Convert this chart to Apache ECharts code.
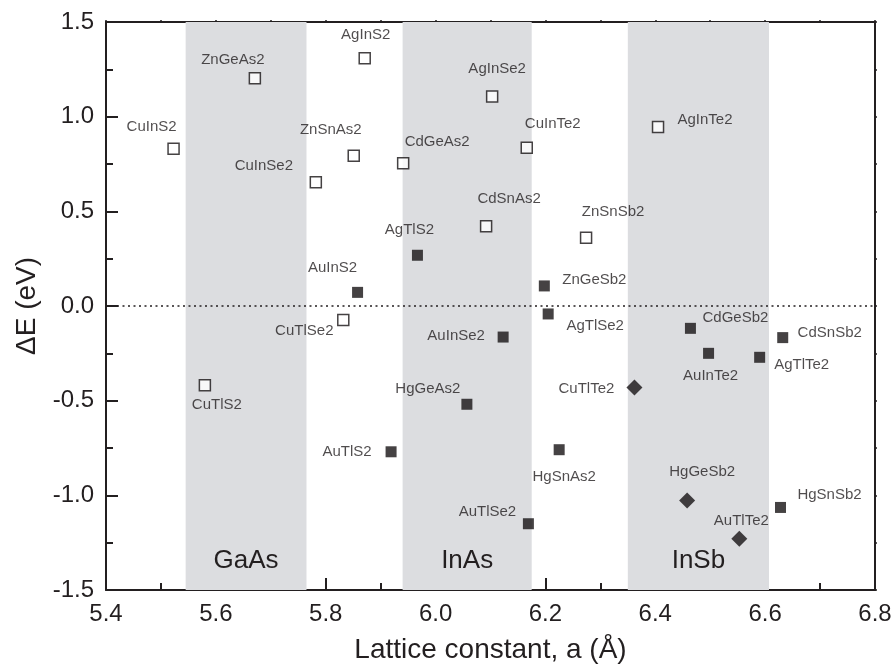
<!DOCTYPE html>
<html>
<head>
<meta charset="utf-8">
<script src="https://cdn.jsdelivr.net/npm/echarts@6/dist/echarts.min.js"></script>
<style>
  html, body { margin: 0; padding: 0; background: #fff; }
  #main { width: 893px; height: 672px; }
</style>
</head>
<body>
<div id="main"></div>
<script>
// open squares (dE > 0 mostly)
var openNames = ['CuInS2', 'ZnGeAs2', 'AgInS2', 'ZnSnAs2', 'CuInSe2', 'CdGeAs2', 'AgInSe2', 'CuInTe2', 'AgInTe2', 'CdSnAs2', 'ZnSnSb2', 'CuTlSe2', 'CuTlS2'];
var openX = [5.523, 5.671, 5.871, 5.851, 5.782, 5.941, 6.103, 6.166, 6.405, 6.092, 6.274, 5.832, 5.580];
var openY = [0.831, 1.203, 1.308, 0.794, 0.653, 0.754, 1.106, 0.836, 0.946, 0.421, 0.361, -0.074, -0.419];

// filled squares
var filledNames = ['AgTlS2', 'AuInS2', 'ZnGeSb2', 'AgTlSe2', 'AuInSe2', 'CdGeSb2', 'CdSnSb2', 'AuInTe2', 'AgTlTe2', 'HgGeAs2', 'AuTlS2', 'HgSnAs2', 'AuTlSe2', 'HgSnSb2'];
var filledX = [5.967, 5.858, 6.198, 6.205, 6.123, 6.464, 6.632, 6.497, 6.590, 6.057, 5.919, 6.225, 6.169, 6.628];
var filledY = [0.268, 0.072, 0.106, -0.042, -0.164, -0.118, -0.167, -0.250, -0.271, -0.519, -0.770, -0.759, -1.150, -1.064];

// diamonds
var diamondNames = ['CuTlTe2', 'HgGeSb2', 'AuTlTe2'];
var diamondX = [6.362, 6.458, 6.553];
var diamondY = [-0.430, -1.027, -1.229];

// substrate bands
var bandNames = ['GaAs', 'InAs', 'InSb'];
var bandFrom = [5.545, 5.94, 6.35];
var bandTo = [5.765, 6.175, 6.607];

// label placement (px from marker centre)
var labelOffset = {
  CuInS2: [-22, -22], ZnGeAs2: [-22, -18], AgInS2: [1, -23], ZnSnAs2: [-23, -26],
  CuInSe2: [-52, -17], CdGeAs2: [34, -21], AgTlS2: [-8, -25], AuInS2: [-25, -25],
  CuTlSe2: [-39, 11], CuTlS2: [12, 20], HgGeAs2: [-39, -15], AuTlS2: [-44, 0],
  AuInSe2: [-47, -1], AgInSe2: [5, -28], CuInTe2: [26, -24], AgInTe2: [47, -7],
  CdSnAs2: [23, -27], ZnSnSb2: [27, -26], ZnGeSb2: [50, -6], AgTlSe2: [47, 12],
  CdGeSb2: [45, -10], CdSnSb2: [47, -5], AuInTe2: [2, 23], AgTlTe2: [42, 8],
  CuTlTe2: [-48, 1], HgSnAs2: [5, 27], HgGeSb2: [15, -29], HgSnSb2: [49, -13],
  AuTlTe2: [2, -18], AuTlSe2: [-41, -12]
};

var ink = '#231f20';
var mark = '#161314';
var font = 'Liberation Sans, Arial, Helvetica, sans-serif';

function buildData(names, xs, ys) {
  return names.map(function (n, i) {
    return {
      name: n,
      value: [xs[i], ys[i]],
      label: { offset: labelOffset[n] || [0, 0] }
    };
  });
}

var pointLabel = {
  show: true,
  position: 'inside',
  formatter: '{b}',
  fontSize: 15,
  fontFamily: font,
  color: ink
};

var bandAreas = bandNames.map(function (n, i) {
  return [
    { xAxis: bandFrom[i], name: n },
    { xAxis: bandTo[i] }
  ];
});

var option = {
  animation: false,
  backgroundColor: '#fff',
  grid: { left: 106, right: 18, top: 22, bottom: 82, containLabel: false, outerBoundsMode: 'none' },
  xAxis: [
    {
      type: 'value',
      min: 5.4,
      max: 6.8,
      interval: 0.2,
      name: 'Lattice constant, a (Å)',
      nameLocation: 'middle',
      nameGap: 46,
      nameTextStyle: { fontSize: 28, fontFamily: font, color: ink },
      axisLine: { onZero: false, lineStyle: { color: ink, width: 2 } },
      axisTick: { inside: true, length: 12, lineStyle: { color: ink, width: 2 } },
      minorTick: { show: true, splitNumber: 2, length: 7, lineStyle: { color: ink, width: 2 } },
      axisLabel: {
        fontSize: 24, fontFamily: font, color: ink, margin: 12,
        formatter: function (v) { return v.toFixed(1); }
      },
      splitLine: { show: false }
    },
    {
      type: 'value',
      position: 'top',
      min: 5.4,
      max: 6.8,
      interval: 0.1,
      axisLine: { onZero: false, lineStyle: { color: ink, width: 2 } },
      axisTick: { inside: false, length: 2, lineStyle: { color: ink, width: 1.5 } },
      axisLabel: { show: false },
      splitLine: { show: false }
    }
  ],
  yAxis: [
    {
      type: 'value',
      min: -1.5,
      max: 1.5,
      interval: 0.5,
      name: 'ΔE (eV)',
      nameLocation: 'middle',
      nameGap: 64,
      nameTextStyle: { fontSize: 28, fontFamily: font, color: ink },
      axisLine: { onZero: false, lineStyle: { color: ink, width: 2 } },
      axisTick: { inside: true, length: 12, lineStyle: { color: ink, width: 2 } },
      minorTick: { show: true, splitNumber: 2, length: 7, lineStyle: { color: ink, width: 2 } },
      axisLabel: {
        fontSize: 24, fontFamily: font, color: ink, margin: 12,
        formatter: function (v) { return v.toFixed(1); }
      },
      splitLine: { show: false }
    },
    {
      type: 'value',
      position: 'right',
      min: -1.5,
      max: 1.5,
      interval: 0.25,
      axisLine: { onZero: false, lineStyle: { color: ink, width: 2 } },
      axisTick: { inside: false, length: 2, lineStyle: { color: ink, width: 1.5 } },
      axisLabel: { show: false },
      splitLine: { show: false }
    }
  ],
  series: [
    {
      name: 'bands',
      type: 'scatter',
      data: [],
      z: 1,
      silent: true,
      markArea: {
        silent: true,
        itemStyle: { color: '#dcdde0' },
        label: {
          show: true,
          position: 'insideBottom',
          distance: 16,
          fontSize: 26,
          fontFamily: font,
          color: ink
        },
        data: bandAreas
      },
      markLine: {
        silent: true,
        symbol: 'none',
        label: { show: false },
        lineStyle: { color: ink, width: 1.5, type: [2, 3.5] },
        data: [{ yAxis: 0 }]
      }
    },
    {
      name: 'open',
      type: 'scatter',
      z: 3,
      symbol: 'rect',
      symbolSize: 11,
      itemStyle: { color: '#fff', borderColor: mark, borderWidth: 1.5 },
      label: pointLabel,
      data: buildData(openNames, openX, openY)
    },
    {
      name: 'filled',
      type: 'scatter',
      z: 3,
      symbol: 'rect',
      symbolSize: 11,
      itemStyle: { color: mark },
      label: pointLabel,
      data: buildData(filledNames, filledX, filledY)
    },
    {
      name: 'diamond',
      type: 'scatter',
      z: 3,
      symbol: 'diamond',
      symbolSize: 16,
      itemStyle: { color: mark },
      label: pointLabel,
      data: buildData(diamondNames, diamondX, diamondY)
    }
  ]
};

var chart = echarts.init(document.getElementById('main'));
chart.setOption(option);
</script>
</body>
</html>
